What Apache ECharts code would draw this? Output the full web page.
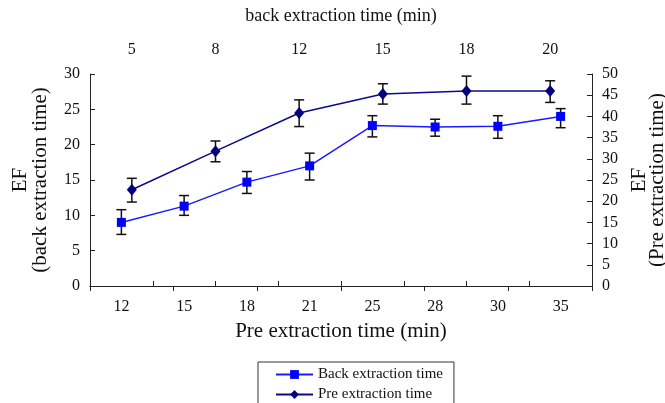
<!DOCTYPE html>
<html>
<head>
<meta charset="utf-8">
<script src="https://cdn.jsdelivr.net/npm/echarts@6/dist/echarts.min.js"></script>
<style>
  html, body { margin: 0; padding: 0; background: #fff; }
  #main { width: 665px; height: 403px; }
</style>
</head>
<body>
<div id="main"></div>
<script>
// bottom axis: pre extraction time, top axis: back extraction time
var preTimes = ['12', '15', '18', '21', '25', '28', '30', '35'];
var backTimes = ['5', '8', '12', '15', '18', '20'];

// blue squares, left axis, plotted on bottom categories
var backEF = [9.0, 11.3, 14.7, 17.0, 22.7, 22.5, 22.6, 24.0];
var backLow = [7.3, 10.0, 13.1, 15.0, 21.1, 21.2, 20.9, 22.4];
var backHigh = [10.8, 12.8, 16.2, 18.8, 24.1, 23.6, 24.1, 25.1];

// navy diamonds, right axis, plotted on top categories
var preEF = [22.7, 31.8, 40.8, 45.3, 46.0, 46.0];
var preLow = [19.8, 29.3, 37.6, 42.9, 42.9, 43.3];
var preHigh = [25.4, 34.2, 43.9, 47.7, 49.5, 48.4];

var leftTicks = { min: 0, max: 30, interval: 5 };
var rightTicks = { min: 0, max: 50, interval: 5 };

var font = 'Liberation Serif';

function errData(low, high) {
    var out = [];
    for (var i = 0; i < low.length; i++) {
        out.push([i, low[i], high[i]]);
    }
    return out;
}

function renderErr(params, api) {
    var top = api.coord([api.value(0), api.value(2)]);
    var bot = api.coord([api.value(0), api.value(1)]);
    var cap = 5;
    var style = { stroke: '#111', lineWidth: 1.5 };
    return {
        type: 'group',
        children: [
            { type: 'line', shape: { x1: top[0], y1: top[1], x2: bot[0], y2: bot[1] }, style: style },
            { type: 'line', shape: { x1: top[0] - cap, y1: top[1], x2: top[0] + cap, y2: top[1] }, style: style },
            { type: 'line', shape: { x1: bot[0] - cap, y1: bot[1], x2: bot[0] + cap, y2: bot[1] }, style: style }
        ]
    };
}

var axisLine = { show: true, lineStyle: { color: '#222', width: 1 } };
var axisTick = { show: true, inside: true, length: 5, lineStyle: { color: '#222' } };
var label = { color: '#111', fontSize: 16, fontFamily: font };

var myChart = echarts.init(document.getElementById('main'));

var option = {
    animation: false,
    backgroundColor: '#fff',
    grid: { left: 90, right: 73, top: 74, bottom: 117, outerBoundsMode: 'none', containLabel: false },
    legend: {
        orient: 'vertical',
        left: 258,
        top: 362,
        height: 60,
        padding: [5, 11, 14, 17],
        itemWidth: 37,
        itemHeight: 11,
        itemGap: 5,
        borderColor: '#333',
        borderWidth: 1,
        textStyle: { color: '#111', fontSize: 15, fontFamily: font },
        data: ['Back extraction time', 'Pre extraction time']
    },
    xAxis: [
        {
            type: 'category',
            position: 'bottom',
            data: preTimes,
            name: 'Pre extraction time (min)',
            nameLocation: 'middle',
            nameGap: 35,
            nameTextStyle: { color: '#111', fontSize: 21, fontFamily: font },
            axisLine: axisLine,
            axisTick: axisTick,
            axisLabel: Object.assign({ margin: 13 }, label),
            splitLine: { show: false }
        },
        {
            type: 'category',
            position: 'top',
            data: backTimes,
            name: 'back extraction time (min)',
            nameLocation: 'middle',
            nameGap: 49,
            nameTextStyle: { color: '#111', fontSize: 18, fontFamily: font },
            axisLine: axisLine,
            axisTick: axisTick,
            axisLabel: Object.assign({ margin: 16 }, label),
            splitLine: { show: false }
        }
    ],
    yAxis: [
        {
            type: 'value',
            position: 'left',
            min: leftTicks.min,
            max: leftTicks.max,
            interval: leftTicks.interval,
            name: 'EF\n(back extraction time)',
            nameLocation: 'middle',
            nameGap: 40,
            nameTextStyle: { color: '#111', fontSize: 21, fontFamily: font, lineHeight: 20 },
            axisLine: axisLine,
            axisTick: axisTick,
            axisLabel: Object.assign({ margin: 10 }, label),
            splitLine: { show: false }
        },
        {
            type: 'value',
            position: 'right',
            min: rightTicks.min,
            max: rightTicks.max,
            interval: rightTicks.interval,
            name: 'EF\n(Pre extraction time)',
            nameLocation: 'middle',
            nameGap: 36,
            nameTextStyle: { color: '#111', fontSize: 21, fontFamily: font, lineHeight: 18 },
            axisLine: axisLine,
            axisTick: axisTick,
            axisLabel: Object.assign({ margin: 10 }, label),
            splitLine: { show: false }
        }
    ],
    series: [
        {
            name: 'Back extraction time',
            type: 'line',
            xAxisIndex: 0,
            yAxisIndex: 0,
            data: backEF,
            symbol: 'rect',
            symbolSize: 9,
            z: 3,
            color: '#0000ff',
            lineStyle: { color: '#1a1aff', width: 1.5 },
            itemStyle: { color: '#0000ff' }
        },
        {
            name: 'Pre extraction time',
            type: 'line',
            xAxisIndex: 1,
            yAxisIndex: 1,
            data: preEF,
            symbol: 'diamond',
            symbolSize: [10, 12],
            z: 3,
            color: '#000080',
            lineStyle: { color: '#0a0a8a', width: 1.5 },
            itemStyle: { color: '#000080' }
        },
        {
            type: 'custom',
            xAxisIndex: 0,
            yAxisIndex: 0,
            renderItem: renderErr,
            data: errData(backLow, backHigh),
            z: 2
        },
        {
            type: 'custom',
            xAxisIndex: 1,
            yAxisIndex: 1,
            renderItem: renderErr,
            data: errData(preLow, preHigh),
            z: 2
        }
    ]
};

myChart.setOption(option);
</script>
</body>
</html>
